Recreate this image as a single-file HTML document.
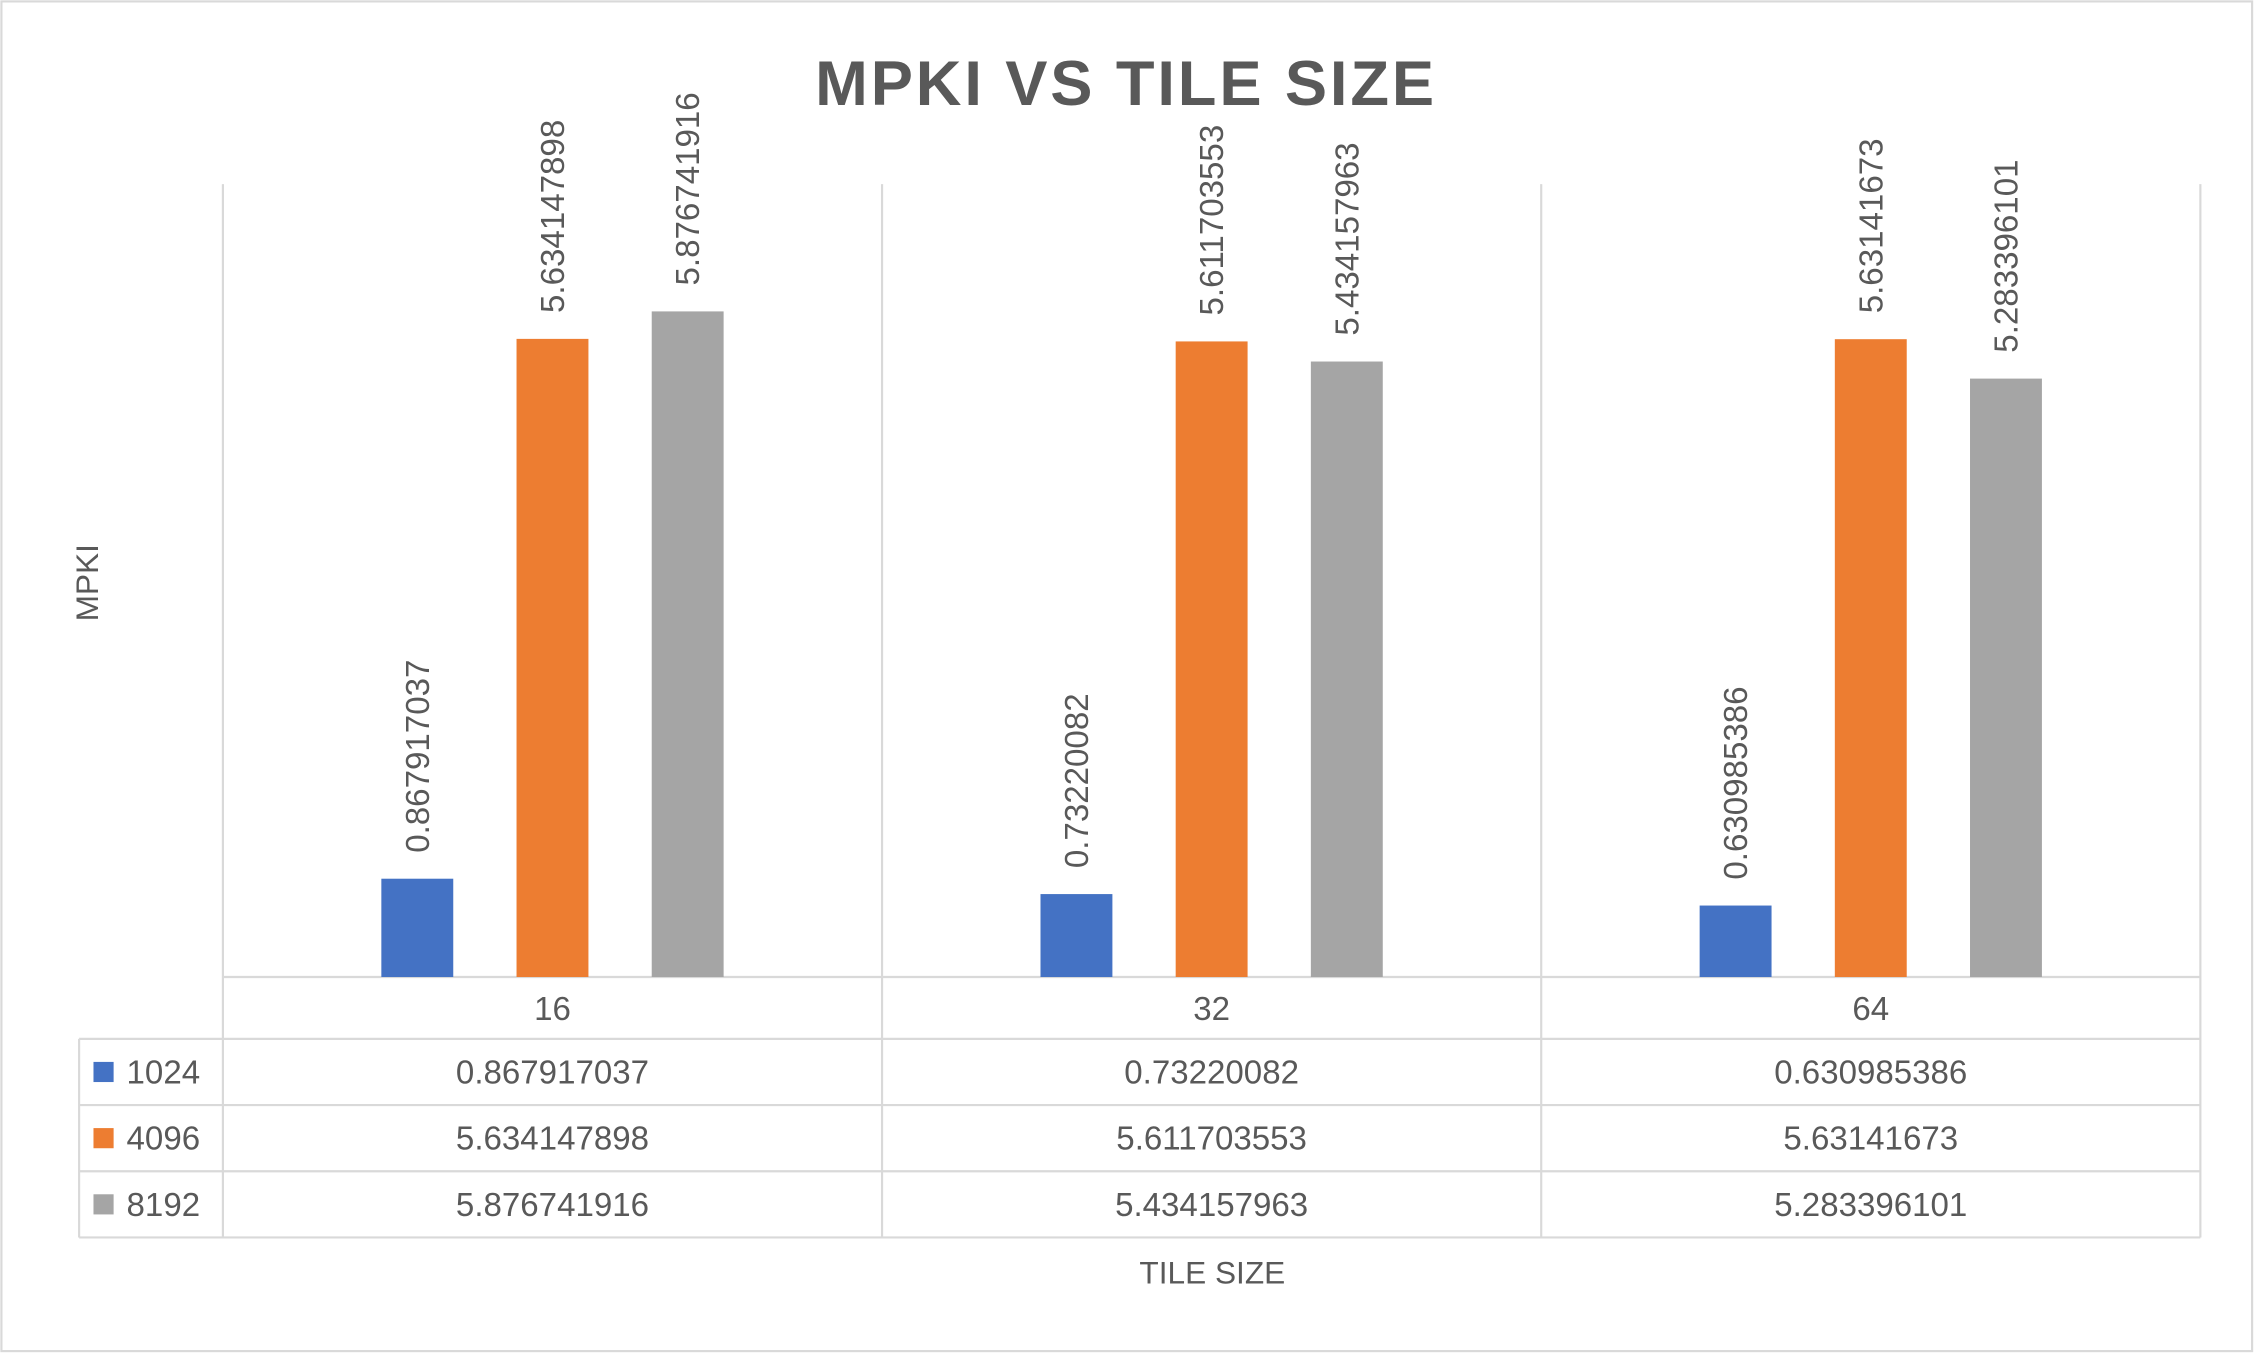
<!DOCTYPE html>
<html><head><meta charset="utf-8"><style>
html,body{margin:0;padding:0;background:#fff;}
svg{display:block;font-family:"Liberation Sans",sans-serif;}
</style></head><body>
<svg id="chart" width="2255" height="1354" viewBox="0 0 1568 941" preserveAspectRatio="none" xmlns="http://www.w3.org/2000/svg">
<rect x="1" y="1" width="1565" height="938" fill="#fff" stroke="#d9d9d9" stroke-width="1.5"/>
<text x="783" y="73" text-anchor="middle" font-size="44" font-weight="bold" fill="#595959" letter-spacing="2">MPKI VS TILE SIZE</text>
<text transform="translate(68,405) rotate(-90)" text-anchor="middle" font-size="22" fill="#595959">MPKI</text>
<text x="843" y="892" text-anchor="middle" font-size="22" fill="#595959">TILE SIZE</text>
<g id="grid"></g><g id="bars"></g><g id="table"></g>
</svg>
<script>
const categories = ["16","32","64"];
const seriesNames = ["1024","4096","8192"];
const s1024 = [0.867917037, 0.73220082, 0.630985386];
const s4096 = [5.634147898, 5.611703553, 5.63141673];
const s8192 = [5.876741916, 5.434157963, 5.283396101];
const labels1024 = ["0.867917037","0.73220082","0.630985386"];
const labels4096 = ["5.634147898","5.611703553","5.63141673"];
const labels8192 = ["5.876741916","5.434157963","5.283396101"];
const series=[s1024,s4096,s8192], labels=[labels1024,labels4096,labels8192];
const colors=["#4472c4","#ed7d31","#a5a5a5"];
const NS="http://www.w3.org/2000/svg";
const x0=155,x1=1530,yBase=679,yTop=128,yMax=7;
const cw=(x1-x0)/categories.length;
const y=v=>yBase-(v/yMax)*(yBase-yTop);
const xc=i=>x0+cw*(i+0.5);
function mk(t,a,p){const e=document.createElementNS(NS,t);for(const k in a)e.setAttribute(k,a[k]);p.appendChild(e);return e;}
const grid=document.getElementById('grid'),bars=document.getElementById('bars'),tbl=document.getElementById('table');
const lc="#d9d9d9";
for(let i=0;i<=categories.length;i++){const gx=x0+cw*i;const l=mk('line',{x1:gx,x2:gx,y1:yTop,y2:860,stroke:lc,'stroke-width':1.5},grid);

}
const rows=[679,722,768,814,860];
rows.forEach((ry,j)=>{const l=mk('line',{x1:j===0?x0:55,x2:x1,y1:ry,y2:ry,stroke:lc,'stroke-width':1.5},grid);

});
const vl=mk('line',{x1:55,x2:55,y1:722,y2:860,stroke:lc,'stroke-width':1.5},grid);


const bw=50,off=94;
categories.forEach((c,i)=>{
  const t=mk('text',{x:xc(i),y:709,'text-anchor':'middle','font-size':23,fill:'#595959'},tbl);t.textContent=c;
  
  
  series.forEach((s,k)=>{
    const bx=xc(i)+(k-1)*off;
    const r=mk('rect',{x:bx-bw/2,y:y(s[i]),width:bw,height:yBase-y(s[i]),fill:colors[k]},bars);
    
    
    const lt=mk('text',{transform:`translate(${bx+8},${y(s[i])-18}) rotate(-90)`,'font-size':23,fill:'#595959'},bars);
    lt.textContent=labels[k][i];
    
    
    const ct=mk('text',{x:xc(i),y:rows[k+1]+31,'text-anchor':'middle','font-size':23,fill:'#595959'},tbl);
    ct.textContent=labels[k][i];
    
    
  });
});
seriesNames.forEach((n,k)=>{
  const sw=mk('rect',{x:65,y:rows[k+1]+16,width:14,height:14,fill:colors[k]},tbl);
  
  
  const t=mk('text',{x:88,y:rows[k+1]+31,'font-size':23,fill:'#595959'},tbl);t.textContent=n;
  
  
});
</script>
</body></html>
